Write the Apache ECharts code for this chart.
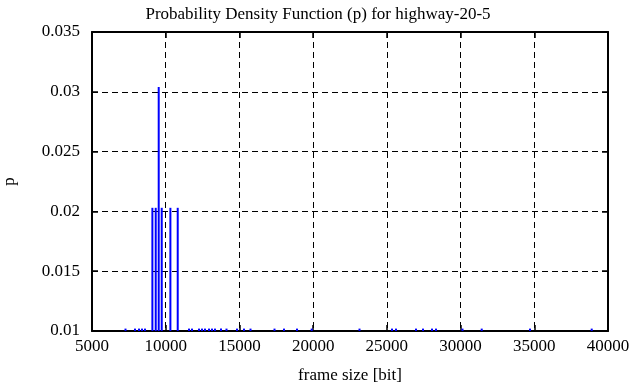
<!DOCTYPE html>
<html>
<head>
<meta charset="utf-8">
<script src="https://cdn.jsdelivr.net/npm/echarts@6/dist/echarts.min.js"></script>
<style>html,body{margin:0;padding:0;background:#fff}#c{width:636px;height:387px}</style>
</head>
<body>
<div id="c"></div>
<script>
// Frame sizes (bit) and probability values
const frameSizes = [9096, 9322, 9525, 9729, 10317, 10814];
const probs = [0.0203, 0.0203, 0.0304, 0.0203, 0.0203, 0.0203];
// Rare frame sizes with very small probability (barely above the axis minimum)
const rareSizes = [7272, 7917, 8188, 8392, 8595, 11580, 11783, 12258, 12461, 12665, 12936, 13140, 13343,
  13750, 14123, 14835, 15310, 15751, 17379, 18023, 18905, 19902, 23145, 25349, 25620, 26977,
  27452, 28062, 28334, 30131, 31434, 34710, 38895];
const rareProbs = [0.0102, 0.0102, 0.0102, 0.0102, 0.0102, 0.0102, 0.0102, 0.0102, 0.0102, 0.0102, 0.0102, 0.0102, 0.0102,
  0.0102, 0.0102, 0.0102, 0.0102, 0.0102, 0.0102, 0.0102, 0.0102, 0.0102, 0.0102, 0.0102, 0.0102, 0.0102,
  0.0102, 0.0102, 0.0102, 0.0102, 0.0102, 0.0102, 0.0102];
const xTicks = { min: 5000, max: 40000, interval: 5000 };
const yTicks = { min: 0.01, max: 0.035, interval: 0.005 };

const data = frameSizes.map((x, i) => [x, probs[i]])
  .concat(rareSizes.map((x, i) => [x, rareProbs[i]]));

const FONT = 'Liberation Serif';
const chart = echarts.init(document.getElementById('c'), null, { renderer: 'canvas' });
const axisLine = { show: true, lineStyle: { color: '#000', width: 2 } };
const tick = { show: true, inside: true, length: 6, lineStyle: { color: '#000', width: 1.5 } };
const grid = { show: true, lineStyle: { color: '#000', width: 1, type: [6, 4] } };
chart.setOption({
  animation: false,
  title: {
    text: 'Probability Density Function (p) for highway-20-5',
    left: 'center', top: 1,
    textStyle: { fontFamily: FONT, fontSize: 17, fontWeight: 'normal', color: '#000' }
  },
  grid: { left: 92, right: 28, top: 32, bottom: 56, containLabel: false, outerBoundsMode: 'none' },
  xAxis: [{
    type: 'value', min: xTicks.min, max: xTicks.max, interval: xTicks.interval,
    name: 'frame size [bit]', nameLocation: 'middle', nameGap: 36,
    nameTextStyle: { fontFamily: FONT, fontSize: 17, color: '#000' },
    axisLine, axisTick: tick, splitLine: grid,
    axisLabel: { fontFamily: FONT, fontSize: 17, color: '#000', margin: 7, formatter: v => String(v) }
  }, {
    type: 'value', position: 'top', min: xTicks.min, max: xTicks.max, interval: xTicks.interval,
    axisLine, axisTick: tick, splitLine: { show: false }, axisLabel: { show: false }
  }],
  yAxis: [{
    type: 'value', min: yTicks.min, max: yTicks.max, interval: yTicks.interval,
    name: 'p', nameLocation: 'middle', nameGap: 74, nameRotate: 90,
    nameTextStyle: { fontFamily: FONT, fontSize: 17, color: '#000' },
    axisLine, axisTick: tick, splitLine: grid,
    axisLabel: { fontFamily: FONT, fontSize: 17, color: '#000', margin: 12, formatter: v => String(+v.toFixed(3)) }
  }, {
    type: 'value', position: 'right', min: yTicks.min, max: yTicks.max, interval: yTicks.interval,
    axisLine, axisTick: tick, splitLine: { show: false }, axisLabel: { show: false }
  }],
  series: [{
    type: 'custom',
    clip: true,
    z: 5,
    data: data,
    renderItem: function (params, api) {
      const x = api.value(0), y = api.value(1);
      const p0 = api.coord([x, yTicks.min]);
      const p1 = api.coord([x, y]);
      return {
        type: 'line',
        shape: { x1: p0[0], y1: p0[1], x2: p1[0], y2: p1[1] },
        style: { stroke: '#0000ff', lineWidth: 2 }
      };
    }
  }]
});
</script>
</body>
</html>
